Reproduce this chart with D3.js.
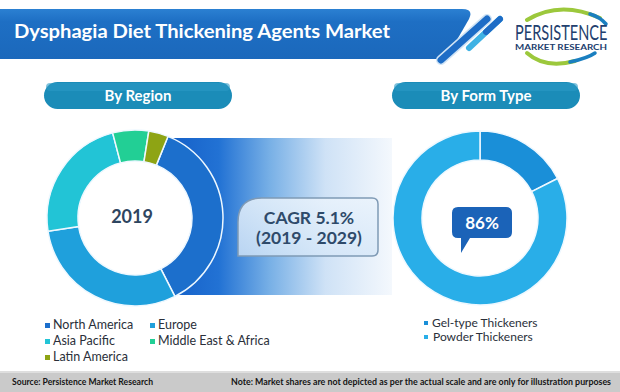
<!DOCTYPE html>
<html>
<head>
<meta charset="utf-8">
<script src="https://cdn.jsdelivr.net/npm/d3@7"></script>
<style>
html,body{margin:0;padding:0;background:#fff;}
svg{display:block;}
text{font-family:Lato,"Open Sans",sans-serif;}
</style>
</head>
<body>
<svg id="chart" width="620" height="392"></svg>
<script>
// ---- data ----
const title = "Dysphagia Diet Thickening Agents Market";
const regionLabels = ["North America","Europe","Asia Pacific","Middle East & Africa","Latin America"];
const regionShares = [36.4, 30.1, 23.3, 6.6, 3.6];
const regionColors = ["#1c6fcc","#1fa0dc","#22c4d6","#22cf95","#8ea414"];
const formLabels = ["Gel-type Thickeners","Powder Thickeners"];
const formShares = [17.5, 82.5];
const formColors = ["#1a8fd8","#29aee8"];
const centerYear = "2019";
const cagrLines = ["CAGR 5.1%","(2019 - 2029)"];
const highlightLabel = "86%";
const sourceText = "Source: Persistence Market Research";
const noteText = "Note: Market shares are not depicted as per the actual scale and are only for illustration purposes";

const svg = d3.select("#chart");
const defs = svg.append("defs");

// ---- header banner ----
const bg = defs.append("linearGradient").attr("id","bannerG").attr("x1",0).attr("y1",0).attr("x2",0).attr("y2",1);
bg.append("stop").attr("offset",0).attr("stop-color","#2b80d2");
bg.append("stop").attr("offset",0.25).attr("stop-color","#1e6fc4");
bg.append("stop").attr("offset",1).attr("stop-color","#1b68bb");
svg.append("path").attr("d","M0,9 H462 Q474,9 469,19 L446,59 H0 Z").attr("fill","url(#bannerG)");
svg.append("text").attr("x",14).attr("y",38).attr("fill","#fff")
  .attr("font-size",18).attr("font-weight",700).attr("textLength",376).attr("lengthAdjust","spacingAndGlyphs")
  .text(title);
// stripes
svg.append("line").attr("x1",441).attr("y1",60).attr("x2",487).attr("y2",19)
  .attr("stroke","#cfe3f5").attr("stroke-width",10).attr("stroke-linecap","round");
svg.append("line").attr("x1",441).attr("y1",60).attr("x2",487).attr("y2",19)
  .attr("stroke","#1d6cc6").attr("stroke-width",7).attr("stroke-linecap","round");
svg.append("line").attr("x1",469).attr("y1",48).attr("x2",500).attr("y2",19)
  .attr("stroke","#3fb2e4").attr("stroke-width",6).attr("stroke-linecap","round");
svg.append("line").attr("x1",486).attr("y1",32).attr("x2",500).attr("y2",19)
  .attr("stroke","#1d6cc6").attr("stroke-width",6).attr("stroke-linecap","round");

// logo
svg.append("path").attr("d","M527,20 Q560,0 600,18").attr("fill","none").attr("stroke","#9cc83c").attr("stroke-width",4).attr("stroke-linecap","round");
svg.append("path").attr("d","M590,14 Q600,17 606,24").attr("fill","none").attr("stroke","#1a7fc0").attr("stroke-width",3.5).attr("stroke-linecap","round");
svg.append("path").attr("d","M527,53 Q545,69 575,61").attr("fill","none").attr("stroke","#9cc83c").attr("stroke-width",4).attr("stroke-linecap","round");
svg.append("path").attr("d","M570,62 Q588,58 595,53").attr("fill","none").attr("stroke","#1a7fc0").attr("stroke-width",3.5).attr("stroke-linecap","round");
svg.append("g").attr("transform","translate(515,40) scale(0.7,1)")
  .append("text").attr("x",0).attr("y",0).attr("fill","#22406e").attr("font-size",21)
  .attr("textLength",132).attr("lengthAdjust","spacingAndGlyphs").text("PERSISTENCE");
svg.append("text").attr("x",515).attr("y",50).attr("fill","#22406e").attr("font-size",6.5).attr("font-weight",700)
  .attr("textLength",92).attr("lengthAdjust","spacingAndGlyphs").text("MARKET RESEARCH");

// ---- gradient band ----
const gb = defs.append("linearGradient").attr("id","bandG").attr("gradientUnits","userSpaceOnUse")
  .attr("x1",170).attr("y1",0).attr("x2",392).attr("y2",0);
[[0,"#1560c8"],[0.22,"#2272d4"],[0.45,"#78b0e6"],[0.7,"#cfe2f6"],[1,"#f4f8fd"]].forEach(s=>
  gb.append("stop").attr("offset",s[0]).attr("stop-color",s[1]));
svg.append("rect").attr("x",160).attr("y",138).attr("width",232).attr("height",157).attr("fill","url(#bandG)");

// ---- pills ----
function pill(cx, label){
  const g = svg.append("g");
  g.append("rect").attr("x",cx-94).attr("y",82).attr("width",188).attr("height",27).attr("rx",13.5)
    .attr("fill","#1b8cb8");
  g.append("rect").attr("x",cx-92).attr("y",83).attr("width",184).attr("height",8).attr("rx",4)
    .attr("fill","#2c9ac4").attr("opacity",0.6);
  g.append("text").attr("x",cx).attr("y",101).attr("text-anchor","middle").attr("fill","#fff")
    .attr("font-size",15).attr("font-weight",700).text(label);
}
pill(138,"By Region");
pill(486,"By Form Type");

// ---- region donut ----
const arcR = d3.arc().innerRadius(57).outerRadius(88);
const pieR = d3.pie().sort(null).startAngle(22*Math.PI/180).endAngle(22*Math.PI/180+2*Math.PI);
const gR = svg.append("g").attr("transform","translate(135,218)");
gR.append("circle").attr("r",57).attr("fill","#fff");
gR.selectAll("path").data(pieR(regionShares)).join("path")
  .attr("d",arcR).attr("fill",(d,i)=>regionColors[i]).attr("stroke","#eef8ff").attr("stroke-width",1.5);
gR.append("text").attr("x",-3).attr("y",5).attr("text-anchor","middle").attr("fill","#2e4560")
  .attr("font-size",18).attr("font-weight",700).text(centerYear);

// ---- form donut ----
const arcF = d3.arc().innerRadius(58).outerRadius(87);
const pieF = d3.pie().sort(null);
const gF = svg.append("g").attr("transform","translate(480,218)");
gF.selectAll("path").data(pieF(formShares)).join("path")
  .attr("d",arcF).attr("fill",(d,i)=>formColors[i]).attr("stroke","#eef8ff").attr("stroke-width",1.5);
// bubble
gF.append("path").attr("d","M-22,-11 H26 Q32,-11 32,-5 V14 Q32,20 26,20 H-10 L-19,35 L-19,20 H-22 Q-28,20 -28,14 V-5 Q-28,-11 -22,-11 Z")
  .attr("fill","#1b63b8");
gF.append("text").attr("x",2).attr("y",11).attr("text-anchor","middle").attr("fill","#fff")
  .attr("font-size",17).attr("font-weight",700).text(highlightLabel);

// ---- CAGR box ----
const cg = defs.append("linearGradient").attr("id","boxG").attr("x1",0).attr("y1",0).attr("x2",0).attr("y2",1);
cg.append("stop").attr("offset",0).attr("stop-color","#eaf3fc").attr("stop-opacity",0.85);
cg.append("stop").attr("offset",1).attr("stop-color","#d6e7f8").attr("stop-opacity",0.8);
svg.append("path").attr("d","M238,256 V222 Q238,198 262,198 H372 Q378,198 378,204 V250 Q378,256 372,256 Z")
  .attr("fill","url(#boxG)").attr("stroke","#7f9ab5").attr("stroke-width",1.5);
svg.selectAll("text.cagr").data(cagrLines).join("text").attr("class","cagr")
  .attr("x",309).attr("y",(d,i)=>224+i*20).attr("text-anchor","middle").attr("fill","#2e4a6a")
  .attr("font-size",17.5).attr("font-weight",700).text(d=>d);

// ---- legends ----
const legPos = [[45,0],[150,0],[45,1],[150,1],[45,2]];
const lg = svg.append("g");
regionLabels.forEach((l,i)=>{
  const [x,r] = legPos[i];
  const y = 329 + r*16;
  lg.append("rect").attr("x",x).attr("y",y-6).attr("width",5).attr("height",5).attr("fill",regionColors[i]);
  lg.append("text").attr("x",x+8).attr("y",y).attr("fill","#2a2f3a").attr("font-size",12.5).text(l);
});
formLabels.forEach((l,i)=>{
  const y = 327 + i*14;
  lg.append("rect").attr("x",424).attr("y",y-6).attr("width",4).attr("height",4).attr("fill",formColors[i]);
  lg.append("text").attr("x",432+i).attr("y",y).attr("fill","#2a2f3a").attr("font-size",12).text(l);
});

// ---- footer ----
svg.append("rect").attr("x",0).attr("y",371).attr("width",620).attr("height",21).attr("fill","#cacaca");
svg.append("rect").attr("x",0).attr("y",371).attr("width",620).attr("height",2).attr("fill","#dedede");
svg.append("text").attr("x",12).attr("y",385).attr("fill","#151515").attr("font-size",8.5).attr("font-weight",700)
  .attr("textLength",141).attr("lengthAdjust","spacingAndGlyphs").text(sourceText);
svg.append("text").attr("x",231).attr("y",385).attr("fill","#151515").attr("font-size",8.5).attr("font-weight",700)
  .attr("textLength",380).attr("lengthAdjust","spacingAndGlyphs").text(noteText);
</script>
</body>
</html>
